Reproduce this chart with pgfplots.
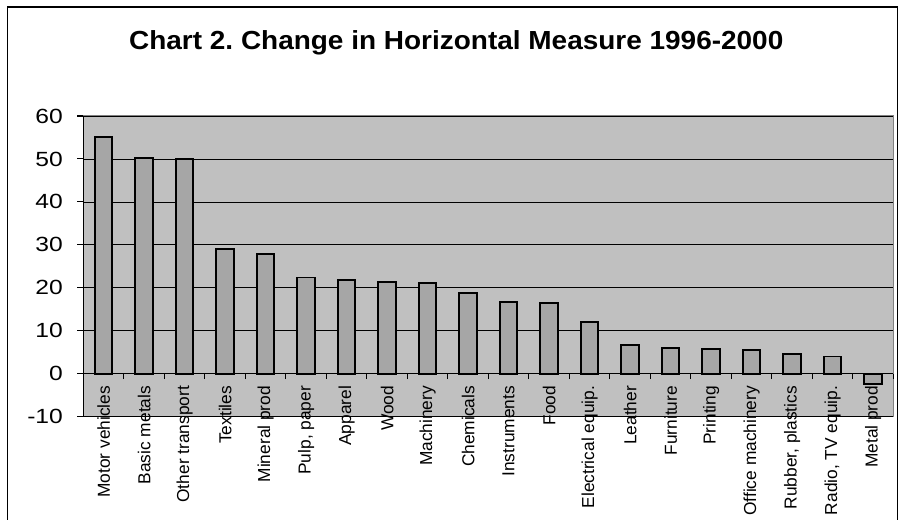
\documentclass[border=0pt]{standalone}
\usepackage{fontspec}
\setmainfont{Liberation Sans}
\usepackage{pgfplots}
\pgfplotsset{compat=1.18}
\definecolor{plotgray}{RGB}{192,192,192}
\definecolor{bargray}{RGB}{166,166,166}
\definecolor{axisgray}{RGB}{128,128,128}
\newcommand\xlabfont{\fontsize{13}{15}\selectfont}
\newcommand\ylabfont{\fontsize{15.4}{18}\selectfont}
\frenchspacing
\begin{document}
\begin{tikzpicture}
\useasboundingbox (0,0) rectangle (674.25pt,390pt);
\draw[black, line width=0.8pt] (5.5pt,-5pt) rectangle (673.1pt,384.75pt);
\node[anchor=base, xscale=1.07, font=\fontsize{19.6}{24}\selectfont\bfseries] at (342.2pt,352.5pt) {Chart 2. Change in Horizontal Measure 1996-2000};
\begin{axis}[
  at={(62.5pt,77.5pt)}, anchor=south west,
  scale only axis, width=607.5pt, height=225.5pt,
  xmin=-0.5, xmax=19.5, ymin=-10, ymax=60,
  axis x line*=middle, axis y line*=left,
  hide obscured x ticks=false, hide obscured y ticks=false,
  x axis line style={black, line width=0.8pt, -},
  y axis line style={black, line width=0.8pt, -},
  axis background/.style={fill=plotgray, draw=axisgray, line width=1.2pt},
  ytick={-10,0,...,60},
  ymajorgrids, major grid style={black, line width=0.6pt},
  ytick align=outside, major tick length=4.5pt,
  y tick style={black, line width=0.8pt},
  xtick={0,...,19},
  major x tick style={draw=none},
  minor xtick={-0.5,0.5,...,19.5},
  minor x tick style={black, line width=0.8pt},
  minor tick length=4pt,
  xtick align=outside,
  xticklabels={\xlabfont Motor vehicles,\xlabfont Basic metals,\xlabfont Other transport,\xlabfont Textiles,\xlabfont Mineral prod,{\xlabfont Pulp, paper},\xlabfont Apparel,\xlabfont Wood,\xlabfont Machinery,\xlabfont Chemicals,\xlabfont Instruments,\xlabfont Food,\xlabfont Electrical equip.,\xlabfont Leather,\xlabfont Furniture,\xlabfont Printing,\xlabfont Office machinery,{\xlabfont Rubber, plastics},{\xlabfont Radio, TV equip.},\xlabfont Metal prod},
  /pgf/number format/assume math mode=true,
  yticklabel style={font=\ylabfont, xscale=1.2, xshift=-5.5pt},
  xticklabel style={font=\xlabfont, rotate=90, anchor=east, inner xsep=4.5pt},
  ybar, bar width=13pt,
]
\addplot[fill=bargray, draw=black, line width=1.4pt] coordinates {
(0,55.1) (1,50.3) (2,49.9) (3,29.1) (4,27.8) (5,22.4) (6,21.8) (7,21.4) (8,21.1) (9,18.8)
(10,16.6) (11,16.5) (12,12.1) (13,6.7) (14,6.0) (15,5.8) (16,5.5) (17,4.6) (18,4.0) (19,-2.4)
};
\end{axis}
\end{tikzpicture}
\end{document}
